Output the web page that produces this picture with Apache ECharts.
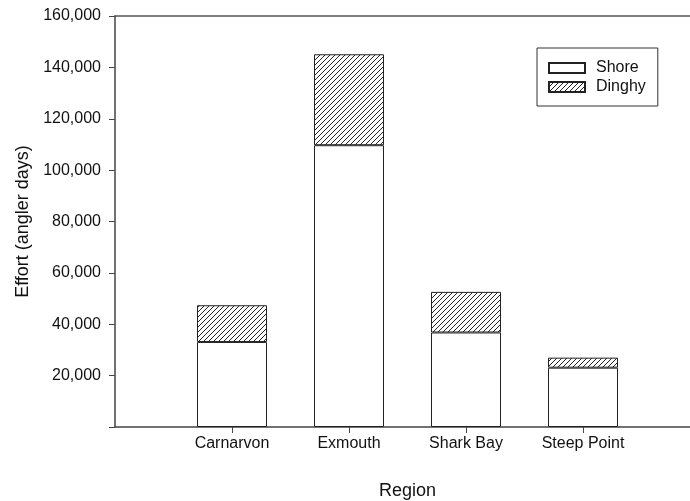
<!DOCTYPE html>
<html>
<head>
<meta charset="utf-8">
<script src="https://cdn.jsdelivr.net/npm/echarts@6/dist/echarts.min.js"></script>
<style>
html,body{margin:0;padding:0;background:#fff;}
#chart{width:690px;height:501px;}
</style>
</head>
<body>
<div id="chart"></div>
<script>
// Data
const regions = ['', 'Carnarvon', 'Exmouth', 'Shark Bay', 'Steep Point', ''];
const shore = [null, 33100, 109700, 36800, 23100, null];
const dinghy = [null, 14300, 35400, 15800, 3900, null];
const yTicks = [0, 20000, 40000, 60000, 80000, 100000, 120000, 140000, 160000];

// Hatch pattern
function makeHatch() {
  const s = 5;
  const c = document.createElement('canvas');
  c.width = s; c.height = s;
  const ctx = c.getContext('2d');
  ctx.fillStyle = '#fff';
  ctx.fillRect(0, 0, s, s);
  ctx.strokeStyle = '#222';
  ctx.lineWidth = 1;
  for (let k = -1; k <= 1; k++) {
    ctx.beginPath();
    ctx.moveTo(k * s - 1, s + 1);
    ctx.lineTo(k * s + s + 1, -1);
    ctx.stroke();
  }
  return c;
}
const hatch = { image: makeHatch(), repeat: 'repeat' };

const FONT = '"Liberation Sans", Arial, sans-serif';
const chart = echarts.init(document.getElementById('chart'), null, { renderer: 'canvas' });
chart.setOption({
  animation: false,
  backgroundColor: '#fff',
  textStyle: { fontFamily: FONT, color: '#111' },
  grid: { left: 115, top: 16, height: 411, width: 585, containLabel: false, outerBoundsMode: 'none' },
  legend: {
    left: 537, top: 48,
    orient: 'vertical',
    width: 120,
    padding: [12, 12, 11, 11],
    itemGap: 3,
    itemWidth: 36, itemHeight: 10,
    icon: 'rect',
    borderColor: '#333', borderWidth: 1,
    selectedMode: false,
    textStyle: { fontFamily: FONT, fontSize: 16, color: '#111', padding: [0, 0, 0, 6] },
    data: ['Shore', 'Dinghy']
  },
  xAxis: [{
    type: 'category',
    data: regions,
    boundaryGap: false,
    name: 'Region',
    nameLocation: 'middle',
    nameGap: 55,
    nameTextStyle: { fontFamily: FONT, fontSize: 18, color: '#111' },
    axisLine: { lineStyle: { color: '#444', width: 1.5 } },
    axisTick: { length: 6, interval: (i, v) => v !== '', lineStyle: { color: '#444' } },
    axisLabel: { fontFamily: FONT, fontSize: 16, color: '#111', margin: 9, interval: 0 },
    splitLine: { show: false }
  }, {
    type: 'category',
    data: regions,
    boundaryGap: false,
    position: 'top',
    axisLine: { lineStyle: { color: '#555', width: 1.5 } },
    axisTick: { show: false },
    axisLabel: { show: false },
    splitLine: { show: false }
  }],
  yAxis: {
    type: 'value',
    min: yTicks[0], max: yTicks[yTicks.length - 1], interval: 20000,
    name: 'Effort (angler days)',
    nameLocation: 'middle',
    nameGap: 83,
    nameTextStyle: { fontFamily: FONT, fontSize: 18, color: '#111' },
    axisLine: { show: true, lineStyle: { color: '#444', width: 1.5 } },
    axisTick: { show: true, length: 6, lineStyle: { color: '#444' } },
    axisLabel: {
      fontFamily: FONT, fontSize: 16, color: '#111', margin: 14,
      formatter: v => v === 0 ? '' : v.toLocaleString('en-US')
    },
    splitLine: { show: false }
  },
  series: [{
    name: 'Shore',
    type: 'bar',
    stack: 'total',
    barWidth: 70,
    data: shore,
    itemStyle: { color: '#fff', borderColor: '#222', borderWidth: 1 }
  }, {
    name: 'Dinghy',
    type: 'bar',
    stack: 'total',
    barWidth: 70,
    data: dinghy,
    itemStyle: { color: hatch, borderColor: '#222', borderWidth: 1 }
  }]
});
</script>
</body>
</html>
